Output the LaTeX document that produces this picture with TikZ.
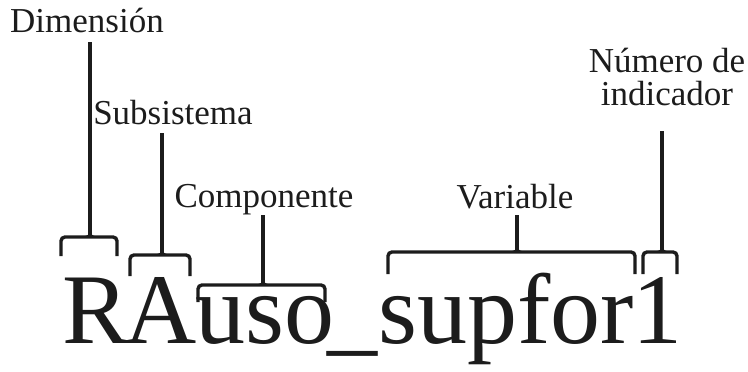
\documentclass[tikz,border=0pt]{standalone}
\usepackage{fontspec}
\setmainfont{Liberation Serif}
\usetikzlibrary{calc}
\definecolor{ink}{RGB}{28,28,28}

\begin{document}
\begin{tikzpicture}[x=1pt,y=-1pt]
\tikzstyle{every node}+=[inner sep=0pt, text=ink]
\tikzstyle{lbl}=[font=\fontsize{35}{33}\selectfont, anchor=base]
\tikzstyle{code}=[font=\fontsize{100}{100}\selectfont, anchor=base west]
\tikzstyle{brk}=[draw=ink, line width=3.4pt, rounded corners=4pt]
\useasboundingbox (0,0) rectangle (748,372);
% the code, one node per part
\node [code] (segR) at (62,343) {R};
\node [code] (segA) at (124,343) {A};
\node [code] (seguso) at (195,343) {uso};
\node [code] (segund) at (327,343) {\_};
\node [code] (segsup) at (378,343) {supfor};
\node [code] (segone) at (632,343) {1};
% labels
\node [lbl] (dim) at (87,32) {Dimensión};
\node [lbl] (sub) at (173,124) {Subsistema};
\node [lbl] (com) at (264,207) {Componente};
\node [lbl] (var) at (515,208) {Variable};
\node [lbl, align=center, anchor=south] (num) at (667,106) {Número de\\indicador};
% brackets
\coordinate (dimm) at (90,237);
\coordinate (subm) at (162,255);
\coordinate (comm) at (263,285);
\coordinate (varm) at (517,252);
\coordinate (numm) at (662,252);
\draw [brk] (61,256) |- (dimm) -| (117,256);
\draw [brk, shorten <=10pt] (dim.base -| dimm) -- (dimm);
\draw [brk] (130,276) |- (subm) -| (190,276);
\draw [brk, shorten <=9pt] (sub.base -| subm) -- (subm);
\draw [brk] (198,302) |- (comm) -| (325,302);
\draw [brk, shorten <=8pt] (com.base -| comm) -- (comm);
\draw [brk] (388,274) |- (varm) -| (635,274);
\draw [brk, shorten <=7pt] (var.base -| varm) -- (varm);
\draw [brk] (643,274) |- (numm) -| (677,274);
\draw [brk, shorten <=25pt] (num.south -| numm) -- (numm);
% small fillets where stem meets bracket
\foreach \m in {dimm,subm,comm,varm,numm}
  \draw [draw=ink, line width=1.6pt] ($(\m)+(-5,0)$) to[out=0,in=-90] ($(\m)+(0,-5)$)
    to[out=-90,in=180] ($(\m)+(5,0)$);
\end{tikzpicture}
\end{document}
